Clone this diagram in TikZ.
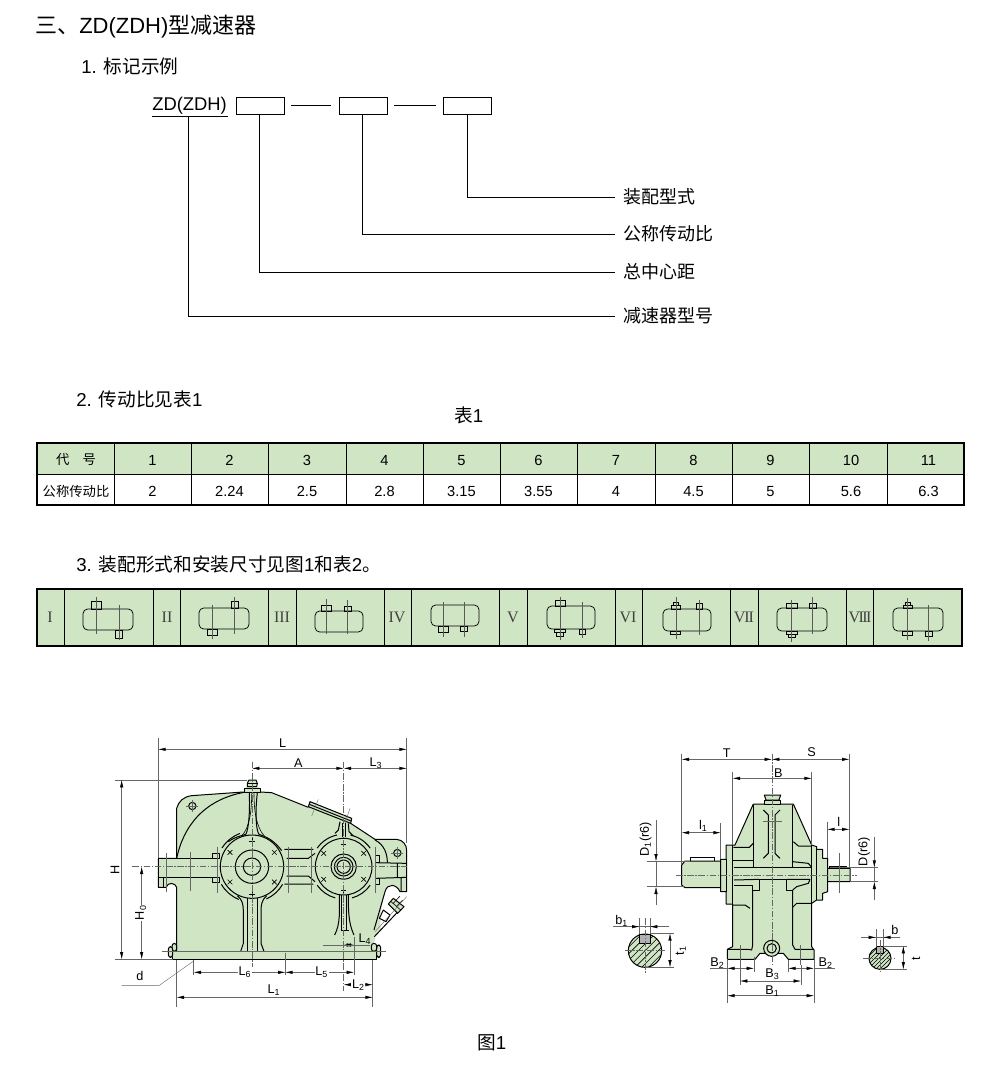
\documentclass[tikz,border=0pt]{standalone}
\usepackage{fontspec}
\setmainfont{Liberation Sans}
\newfontfamily\cjk{Noto Sans CJK SC}
\newfontfamily\romanfont{Liberation Serif}
\usetikzlibrary{arrows.meta}
\definecolor{casegreen}{HTML}{CFE5C3}
\definecolor{dimgray}{HTML}{666666}

\begin{document}
\begin{tikzpicture}[x=0.75pt,y=-0.75pt,
    heading/.style={anchor=west,inner sep=0pt,font=\fontsize{14}{16}\selectfont},
    markbox/.style={draw,line width=0.6pt,anchor=north west,minimum width=36pt,minimum height=12.8pt,inner sep=0pt},
    marklabel/.style={anchor=west,inner xsep=6pt,inner ysep=0pt,font=\fontsize{13.5}{15}\selectfont},
    leader/.style={line width=0.7pt},
    celltext/.style={inner sep=0pt,text height=7.6pt,text depth=0pt,font=\fontsize{11}{12}\selectfont},
    rowmark/.style={inner sep=0pt,font=\romanfont\fontsize{12}{13}\selectfont,text=black!75},
    outline/.style={line width=0.75pt,line join=round},
    thinline/.style={line width=0.45pt},
    centre/.style={draw=dimgray,line width=0.3pt,dash pattern=on 5pt off 1.2pt on 1pt off 1.2pt},
    extline/.style={draw=dimgray,line width=0.3pt},
    dimline/.style={draw=dimgray,line width=0.3pt,{Latex[length=5.5pt,width=2.5pt,black]}-{Latex[length=5.5pt,width=2.5pt,black]}},
    dimtip/.style={draw=dimgray,line width=0.3pt,-{Latex[length=5.5pt,width=2.5pt,black]}},
    dimtext/.style={inner sep=0.6pt,fill=white,font=\fontsize{9.5}{11}\selectfont}]

  \useasboundingbox (0,0) rectangle (1000,1073);

  % headings
  \node[heading,font=\fontsize{16.5}{18}\selectfont] (title) at (35,27) {{\cjk 三、}ZD(ZDH){\cjk 型减速器}};
  \node[heading] (headA) at (81,66) {1. {\cjk 标记示例}};
  \node[heading] (headB) at (76,399) {2. {\cjk 传动比见表}1};
  \node[heading] (tabA) at (454,415) {{\cjk 表}1};
  \node[heading] (headC) at (76,564) {3. {\cjk 装配形式和安装尺寸见图}1{\cjk 和表}2{\cjk 。}};
  \node[heading] (figA) at (477,1043) {{\cjk 图}1};

  % marking example
  \node[anchor=west,inner xsep=0pt,inner ysep=2pt,font=\fontsize{13.8}{15}\selectfont] (typename) at (152,105.5) {ZD(ZDH)};
  \node[markbox] (boxA) at (236,97) {};
  \node[markbox] (boxB) at (339,97) {};
  \node[markbox] (boxC) at (443,97) {};
  \coordinate (under) at (188,116);
  \draw[leader] (152,116) -- (228,116);
  \draw[leader] ([xshift=4.5pt]boxA.east) -- ([xshift=-6pt]boxB.west);
  \draw[leader] ([xshift=4.5pt]boxB.east) -- ([xshift=-5.2pt]boxC.west);
  \node[marklabel] (labA) at (615,197) {\cjk 装配型式};
  \node[marklabel] (labB) at (615,234) {\cjk 公称传动比};
  \node[marklabel] (labC) at (615,272) {\cjk 总中心距};
  \node[marklabel] (labD) at (615,316) {\cjk 减速器型号};
  \draw[leader] (boxC.south) |- (labA.west);
  \draw[leader] ([xshift=-0.75pt]boxB.south) |- (labB.west);
  \draw[leader] ([xshift=-0.75pt]boxA.south) |- (labC.west);
  \draw[leader] (under) |- (labD.west);

  % table 1
  \fill[casegreen] (37,443) rectangle (964,474);
  \draw[line width=1.1pt] (37,443) rectangle (964,505);
  \draw[line width=0.5pt] (37,474) -- (964,474);
  \foreach \x in {114,191,268,346,423,500,577,655,732,809,887}
    \draw[line width=0.5pt] (\x,443) -- (\x,505);
  \node[celltext,font=\fontsize{10}{12}\selectfont] (codehead) at (76,459) {\cjk 代\hspace{1em}号};
  \node[celltext,font=\fontsize{10}{12}\selectfont] (ratiohead) at (76,491) {\cjk 公称传动比};
  \foreach \x/\c/\r [count=\i] in {152.5/1/2,229.5/2/2.24,307/3/2.5,384.5/4/2.8,461.5/5/3.15,538.5/6/3.55,616/7/4,693.5/8/4.5,770.5/9/5,851/10/5.6,928.5/11/6.3} {
    \node[celltext] (code\i) at (\x,460) {\c};
    \node[celltext] (ratio\i) at (\x,491) {\r};
  }

  % table 2
  \fill[casegreen] (37,589) rectangle (962,646);
  \draw[line width=1.1pt] (37,589) rectangle (962,646);
  \foreach \x in {64,153,180,268,296,384,411,499,527,615,642,730,758,846,873}
    \draw[line width=0.5pt] (\x,589) -- (\x,646);
  \foreach \x/\t [count=\i] in {50/I,167/II,282/III,397/IV,513/V,628/VI}
    \node[rowmark] (mark\i) at (\x,617) {\t};
  \node[rowmark] (mark7) at (744,617) {V\kern-0.8pt I\kern-0.8pt I};
  \node[rowmark] (mark8) at (860,617) {V\kern-1.2pt I\kern-1.2pt I\kern-1.2pt I};
  \foreach \xa/\ya/\xb/\yb in {83/609/133/630,199/608/249/629,315/611/363/632,431/605/479/626,547/606/595/629,663/609/711/631,777/608/827/631,893/608/943/631}
    \draw[line width=0.55pt,rounded corners=3.5pt] (\xa,\ya) rectangle (\xb,\yb);
  \foreach \xa/\ya/\xb/\yb in {91/601/101/609,115/630/122/638,231/601/238/608,207/629/217/635,321/605/331/611,344/606/351/611,438/626/448/632,460/626/467/631,555/600/565/606,554/629/565/632,556/632/563/636,579/629/585/634,671/605/680/609,673/602/678/605,696/603/702/609,670/631/680/634,786/603/797/608,809/603/816/608,786/631/797/634,788/634/795/637,903/605/912/608,905/602/910/605,902/631/912/635,925/631/932/636}
    \draw[line width=0.5pt] (\xa,\ya) rectangle (\xb,\yb);
  \foreach \x/\ya/\yb in {96/597/634,119/605/640,212/605/639,234/597/634,326/599/634,347/600/634,443/602/637,464/602/637,560/597/640,582/602/638,676/597/639,699/600/635,791/600/642,812/597/634,907/598/640,928/605/641}
    \draw[line width=0.3pt,black!65] (\x,\ya) -- (\x,\yb);

  % front view
  \begin{scope}[shift={(100,730)},x=0.25pt,y=-0.25pt]
    \fill[casegreen] (175,385) -- (230,385) -- (230,235) .. controls (235,215) and (250,200) .. (275,197) -- (430,186) -- (432,175) -- (442,170) -- (442,150) -- (470,150) -- (470,170) -- (482,175) -- (482,186) -- (515,188) -- (625,232) -- (752,280) -- (825,328) -- (890,328) .. controls (910,330) and (920,345) .. (920,362) -- (920,485) -- (900,485) .. controls (890,462) and (862,458) .. (855,485) -- (822,640) -- (830,645) -- (830,688) -- (218,688) -- (218,664) -- (230,664) -- (230,472) .. controls (226,458) and (204,455) .. (198,472) -- (175,472) -- cycle;
    \fill[casegreen] (823,620) -- (842,600) -- (840,540) -- (855,485) -- cycle;
    \draw[outline] (175,385) -- (230,385) -- (230,235) .. controls (235,215) and (250,200) .. (275,197) -- (430,186);
    \draw[outline] (175,385) -- (175,472) -- (198,472) .. controls (204,455) and (226,458) .. (230,472) -- (230,664);
    \draw[outline] (175,442) -- (337,442) (198,442) -- (198,472) (190,442) -- (190,472);
    \draw[outline] (175,385) -- (337,385);
    \draw[outline] (230,385) .. controls (250,290) and (310,210) .. (432,187);
    \draw[outline] (432,186) rectangle (482,175);
    \draw[outline,fill=casegreen] (442,170) -- (442,160) -- (447,150) -- (468,150) -- (472,160) -- (470,170) -- cycle;
    \draw[outline] (445,160) -- (470,160);
    \draw[outline] (482,186) -- (515,188) -- (625,232);
    \draw[outline,fill=casegreen] (630,215) -- (755,265) -- (752,280) -- (625,230) -- cycle;
    \draw[outline] (628,223) -- (753,273);
    \draw[outline] (752,280) -- (825,328) -- (890,328) .. controls (910,330) and (920,345) .. (920,362) -- (920,485) -- (900,485) .. controls (890,462) and (862,458) .. (855,485) -- (822,600);
    \draw[outline] (825,330) .. controls (855,345) and (862,375) .. (862,398);
    \draw[outline] (825,398) -- (920,400) (825,445) -- (920,442) (892,400) -- (892,442) (903,442) -- (903,485);
    \draw[outline] (825,377) rectangle (838,398) (825,445) rectangle (838,462);
    % base and bolts
    \draw[outline,fill=casegreen] (218,664) rectangle (830,688);
    \draw[outline,fill=casegreen,rounded corners=2pt] (216,640) rectangle (230,664);
    \draw[outline,fill=casegreen,rounded corners=2pt] (205,650) rectangle (218,682);
    \draw[outline,fill=casegreen,rounded corners=2pt] (830,645) rectangle (842,682);
    \draw[outline,fill=casegreen,rounded corners=2pt] (814,640) rectangle (830,664);
    % ribs
    \draw[outline] (448,188) .. controls (450,250) and (446,295) .. (438,312) .. controls (432,317) and (410,317) .. (385,335);
    \draw[outline] (472,188) .. controls (465,250) and (468,295) .. (476,312) .. controls (482,317) and (515,320) .. (545,362);
    \draw[thinline] (455,190) .. controls (455,240) and (450,290) .. (425,318);
    \draw[thinline] (462,190) .. controls (462,240) and (468,290) .. (493,318);
    \draw[outline] (720,275) -- (715,300) -- (705,310) (745,280) -- (747,305) -- (760,318);
    \draw[thinline] (727,280) -- (727,320) (737,280) -- (737,320);
    \draw[outline] (412,497) .. controls (428,510) and (430,525) .. (430,545) -- (430,640) -- (422,664);
    \draw[outline] (500,497) .. controls (485,510) and (483,525) .. (483,545) -- (483,640) -- (492,664);
    \draw[thinline] (443,505) -- (443,664) (472,505) -- (472,664);
    \draw[outline] (718,495) .. controls (718,540) and (722,580) .. (704,615);
    \draw[outline] (745,495) .. controls (745,540) and (745,580) .. (762,615);
    \draw[outline] (722,600) -- (748,600);
    \draw[thinline] (725,495) -- (725,600) (738,495) -- (738,600);
    % gear circles
    \foreach \a/\b in {212/250,150/112,30/66}
      \draw[outline] (456,410) ++(\a:106) arc [start angle=\a,end angle=\b,radius=106];
    \foreach \a/\b in {215/258,282/325,35/75,105/145}
      \draw[outline] (731,410) ++(\a:97) arc [start angle=\a,end angle=\b,radius=97];
    \foreach \xc/\r in {456/95,456/50,456/26,731/85,731/38,731/28,731/20}
      \draw[outline,fill=casegreen] (\xc,410) circle [radius=\r];
    \draw[outline] (553,358) -- (640,358) (560,385) -- (625,385) -- (645,370) (553,462) -- (640,462) (560,438) -- (625,438) -- (645,455);
    \draw[outline] (337,370) rectangle (357,385) (337,442) rectangle (357,458);
    % screw marks and holes
    \foreach \xc/\yc in {390/367,523/367,390/456,523/456,671/370,791/370,671/448,791/448}
      \draw[thinline] (\xc-7,\yc-7) -- (\xc+7,\yc+7) (\xc-7,\yc+7) -- (\xc+7,\yc-7);
    \foreach \xc/\yc in {456/333,456/492,731/343,731/480}
      \draw[thinline] (\xc-8,\yc) -- (\xc+8,\yc) (\xc,\yc-8) -- (\xc,\yc+8);
    \foreach \xc/\yc in {277/228,892/369} {
      \draw[outline] (\xc,\yc) circle [radius=11];
      \draw[extline] (\xc-18,\yc) -- (\xc+18,\yc) (\xc,\yc-18) -- (\xc,\yc+18);
    }
    % oil gauge
    \draw[outline] (823,620) -- (892,547);
    \draw[outline] (850,540) -- (870,555) -- (858,575) -- (838,565) -- cycle;
    \draw[outline,fill=casegreen] (865,522) -- (880,505) -- (912,530) -- (893,550) -- cycle;
    \draw[thinline] (872,514) -- (902,540) (880,520) -- (900,498) (890,528) -- (908,510);
    \draw[extline] (825,605) -- (920,500);
    % thin section lines
    \foreach \x/\ya/\yb in {198/370/485,270/365/482,352/350/490,565/350/490,635/350/490,825/350/490}
      \draw[extline] (\x,\ya) -- (\x,\yb);
    \draw[extline] (635,258) -- (655,208) (735,280) -- (750,235);
    \draw[extline] (185,664) -- (858,664);
    % centre lines
    \draw[centre] (456,95) -- (456,710);
    \draw[centre] (731,95) -- (731,782);
    \draw[centre] (97,410) -- (920,410);
    % dimensions
    \draw[extline] (175,25) -- (175,385) (920,25) -- (920,340);
    \draw[extline] (45,150) -- (440,150) (45,688) -- (218,688);
    \draw[extline] (281,690) -- (281,735) (556,668) -- (556,735) (762,620) -- (762,735);
    \draw[extline] (230,690) -- (230,830) (818,690) -- (818,830);
    \draw[dimline] (175,58) -- (920,58);
    \draw[dimline] (456,115) -- (731,115);
    \draw[dimline] (731,115) -- (920,115);
    \draw[dimline] (65,150) -- (65,688);
    \draw[dimline] (125,410) -- (125,688);
    \draw[dimline] (281,727) -- (556,727);
    \draw[dimline] (556,727) -- (762,727);
    \draw[dimline] (731,764) -- (818,764);
    \draw[dimline] (230,802) -- (818,802);
    \draw[dimline] (731,645) -- (762,645);
    \draw[extline] (670,645) -- (810,645);
    \draw[extline] (65,766) -- (178,766) -- (281,693);
    \node[dimtext,fill=none] (dimL) at (548,38) {L};
    \node[dimtext,fill=none] (dimA) at (595,99) {A};
    \node[dimtext,fill=none] (dimLc) at (828,99) {L\textsubscript{3}};
    \node[dimtext,fill=none,rotate=90] (dimH) at (45,420) {H};
    \node[dimtext,rotate=90] (dimHz) at (122,548) {H\textsubscript{0}};
    \node[dimtext] (dimLf) at (435,727) {L\textsubscript{6}};
    \node[dimtext] (dimLe) at (665,727) {L\textsubscript{5}};
    \node[dimtext,fill=none] (dimLd) at (795,628) {L\textsubscript{4}};
    \node[dimtext] (dimLb) at (775,764) {L\textsubscript{2}};
    \node[dimtext,fill=none] (dimLa) at (522,780) {L\textsubscript{1}};
    \node[dimtext,fill=none] (dimd) at (120,738) {d};
  \end{scope}

  % side view
  \begin{scope}[shift={(610,740)},x=0.25pt,y=-0.25pt]
    \fill[casegreen] (430,192) -- (463,192) -- (475,180) -- (463,165) -- (512,165) -- (500,180) -- (512,192) -- (550,192) -- (605,315) -- (620,320) -- (620,328) -- (638,328) -- (638,355) -- (653,355) -- (653,385) -- (720,385) -- (720,425) -- (653,425) -- (653,455) -- (638,460) -- (638,480) -- (620,480) -- (605,490) -- (605,620) -- (612,630) -- (612,658) -- (535,658) -- (520,640) -- (450,640) -- (435,658) -- (352,658) -- (352,628) -- (368,620) -- (368,492) -- (348,492) -- (348,455) -- (332,455) -- (332,443) -- (225,443) -- (215,435) -- (215,375) -- (225,363) -- (332,363) -- (332,358) -- (348,358) -- (348,315) -- (375,315) -- cycle;
    \draw[outline] (430,192) -- (550,192) -- (605,315) -- (620,320) -- (620,328) -- (638,328) -- (638,355) -- (653,355) -- (653,385) -- (720,385) -- (720,425) -- (653,425);
    \draw[outline] (653,385) -- (653,455) -- (638,460) -- (638,480) -- (620,480) -- (605,490) -- (605,620) -- (612,630) -- (612,658) -- (535,658) -- (520,640) -- (450,640) -- (435,658) -- (352,658) -- (352,628) -- (368,620) -- (368,492) -- (348,492) -- (348,455) -- (332,455) -- (332,358) -- (348,358) -- (348,315) -- (375,315) -- (430,192);
    \draw[outline,fill=casegreen] (463,192) -- (463,180) -- (512,180) -- (512,192) -- cycle;
    \draw[outline,fill=casegreen] (468,180) -- (463,165) -- (512,165) -- (507,180) -- cycle;
    \draw[outline] (332,363) -- (225,363) -- (215,375) -- (215,435) -- (225,443) -- (332,443);
    \draw[outline] (240,363) -- (240,351) -- (313,351) -- (313,363);
    \draw[outline] (658,385) -- (658,378) -- (710,378) -- (710,385);
    \draw[outline] (368,315) -- (368,492) (605,315) -- (605,490) (620,328) -- (620,480) (348,358) -- (348,455);
    \draw[outline] (430,195) -- (430,382) (548,195) -- (548,382);
    \draw[outline] (370,322) -- (418,322) -- (430,310) (550,305) -- (565,318) -- (605,318);
    \draw[outline] (368,362) -- (430,362);
    \draw[line width=1.2pt] (372,382) -- (602,382);
    \draw[outline] (548,365) -- (595,370) -- (605,382);
    \draw[outline] (372,435) -- (428,435) -- (428,450) -- (448,450) -- (448,418) -- (530,418) -- (530,450) -- (548,450);
    \draw[outline] (372,420) -- (448,418) (530,418) -- (600,418) -- (595,430) -- (560,440) -- (548,450);
    \draw[outline] (428,450) -- (428,615) -- (425,630) -- (415,628) -- (352,628);
    \draw[outline] (548,450) -- (548,615) -- (555,628) -- (612,628);
    \draw[outline] (368,495) -- (405,495) -- (420,505) (605,490) -- (560,490) -- (548,502);
    % top rib
    \draw[outline] (460,210) -- (475,225) -- (475,340) -- (460,355);
    \draw[outline] (510,210) -- (495,225) -- (495,340) -- (510,355);
    \draw[extline] (458,243) -- (515,243);
    % drain plug
    \draw[outline,fill=casegreen] (485,625) circle [radius=24];
    \draw[outline] (485,625) circle [radius=14];
    % thin lines
    \draw[extline] (390,615) -- (390,675) (570,615) -- (570,675);
    \draw[extline] (688,340) -- (688,458);
    % section of the shafts
    \fill[casegreen] (105,632) circle [radius=50];
    \begin{scope}
      \clip (105,632) circle [radius=50];
      \foreach \s in {-60,-40,...,60}
        \draw[thinline] (105+\s-60,692) -- (105+\s+60,572);
    \end{scope}
    \draw[outline] (105,632) circle [radius=50];
    \draw[outline,fill=black!30] (88,582) rectangle (120,610);
    \fill[casegreen] (810,655) circle [radius=33];
    \begin{scope}
      \clip (810,655) circle [radius=33];
      \foreach \s in {-40,-28,...,40}
        \draw[thinline] (810+\s-40,695) -- (810+\s+40,615);
    \end{scope}
    \draw[outline] (810,655) circle [radius=33];
    \draw[outline,fill=black!30] (799,620) rectangle (820,640);
    % centre lines
    \draw[centre] (486,42) -- (486,680);
    \draw[centre] (198,405) -- (740,405);
    \draw[centre] (105,535) -- (105,700) (45,632) -- (165,632);
    \draw[centre] (810,600) -- (810,700) (760,655) -- (860,655);
    % dimensions
    \draw[extline] (215,42) -- (215,375) (718,42) -- (718,385);
    \draw[extline] (368,95) -- (368,315) (605,95) -- (605,315);
    \draw[extline] (332,250) -- (332,358) (652,245) -- (652,355);
    \draw[extline] (110,364) -- (240,364) (110,440) -- (225,440);
    \draw[extline] (660,383) -- (805,383) (720,425) -- (805,425);
    \draw[extline] (352,658) -- (352,790) (612,658) -- (612,790);
    \draw[extline] (390,675) -- (390,735) (573,675) -- (573,735) (432,650) -- (432,695) (535,660) -- (535,695);
    \draw[dimline] (215,58) -- (486,58);
    \draw[dimline] (486,58) -- (718,58);
    \draw[dimline] (368,115) -- (605,115);
    \draw[dimline] (215,278) -- (332,278);
    \draw[dimline] (652,268) -- (718,268);
    \draw[dimtip] (138,240) -- (138,364);
    \draw[dimtip] (138,495) -- (138,440);
    \draw[extline] (138,364) -- (138,440);
    \draw[dimtip] (793,290) -- (793,383);
    \draw[dimtip] (793,480) -- (793,425);
    \draw[extline] (793,383) -- (793,425);
    \draw[dimline] (352,685) -- (432,685);
    \draw[dimline] (535,685) -- (612,685);
    \draw[extline] (300,685) -- (352,685) (612,685) -- (675,685);
    \draw[dimline] (390,723) -- (573,723);
    \draw[dimline] (352,767) -- (612,767);
    % key dimensions
    \draw[extline] (88,535) -- (88,582) (120,535) -- (120,582);
    \draw[extline] (120,580) -- (192,580) (105,682) -- (192,682);
    \draw[extline] (10,560) -- (178,560);
    \draw[dimtip] (50,560) -- (88,560);
    \draw[dimtip] (158,560) -- (120,560);
    \draw[dimline] (180,580) -- (180,682);
    \draw[extline] (798,568) -- (798,620) (820,568) -- (820,620);
    \draw[extline] (820,618) -- (890,618) (810,688) -- (890,688);
    \draw[extline] (752,592) -- (870,592);
    \draw[dimtip] (760,592) -- (798,592);
    \draw[dimtip] (858,592) -- (820,592);
    \draw[dimline] (880,618) -- (880,688);
    \node[dimtext,fill=none] (dimT) at (350,40) {T};
    \node[dimtext,fill=none] (dimS) at (605,37) {S};
    \node[dimtext,fill=none] (dimB) at (505,98) {B};
    \node[dimtext,fill=none] (dimla) at (280,257) {l\textsubscript{1}};
    \node[dimtext,fill=none] (diml) at (686,245) {l};
    \node[dimtext,fill=none,rotate=90] (dimDa) at (107,297) {D\textsubscript{1}(r6)};
    \node[dimtext,fill=none,rotate=90] (dimD) at (762,335) {D(r6)};
    \node[dimtext,fill=none] (dimBb) at (322,670) {B\textsubscript{2}};
    \node[dimtext,fill=none] (dimBd) at (647,670) {B\textsubscript{2}};
    \node[dimtext,fill=none] (dimBc) at (487,703) {B\textsubscript{3}};
    \node[dimtext,fill=none] (dimBa) at (487,753) {B\textsubscript{1}};
    \node[dimtext,fill=none] (dimba) at (35,544) {b\textsubscript{1}};
    \node[dimtext,fill=none,rotate=90] (dimta) at (212,632) {t\textsubscript{1}};
    \node[dimtext,fill=none] (dimb) at (855,570) {b};
    \node[dimtext,fill=none,rotate=90] (dimt) at (918,655) {t};
  \end{scope}
\end{tikzpicture}
\end{document}
